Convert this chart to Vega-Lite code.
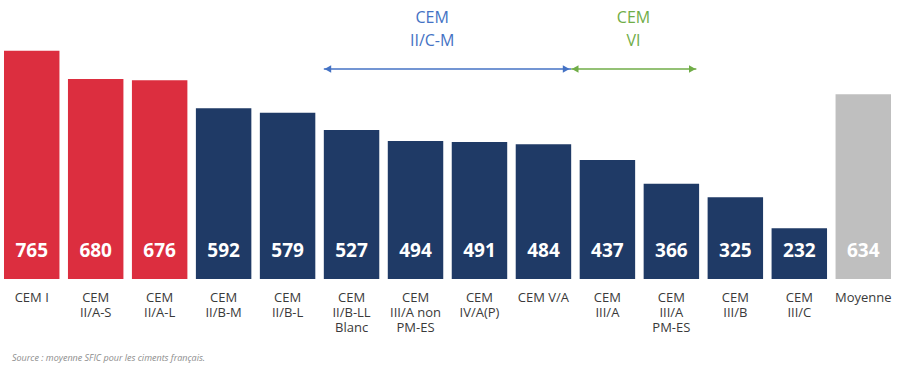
{
  "$schema": "https://vega.github.io/schema/vega-lite/v6.json",
  "width": 895,
  "height": 279,
  "padding": 0,
  "background": "white",
  "config": {"view": {"stroke": null}},
  "title": {"text": "Source :  moyenne SFIC pour les ciments français.", "orient": "bottom", "anchor": "start", "fontSize": 9, "fontStyle": "italic", "fontWeight": "normal", "color": "#8c8c8c", "font": "Open Sans", "offset": 20, "dx": 12},
  "datasets": {
    "bars": [
      {"cat": "CEM I", "value": 765, "group": "rouge"},
      {"cat": "CEM|II/A-S", "value": 680, "group": "rouge"},
      {"cat": "CEM|II/A-L", "value": 676, "group": "rouge"},
      {"cat": "CEM|II/B-M", "value": 592, "group": "bleu"},
      {"cat": "CEM|II/B-L", "value": 579, "group": "bleu"},
      {"cat": "CEM|II/B-LL|Blanc", "value": 527, "group": "bleu"},
      {"cat": "CEM|III/A non|PM-ES", "value": 494, "group": "bleu"},
      {"cat": "CEM|IV/A(P)", "value": 491, "group": "bleu"},
      {"cat": "CEM V/A", "value": 484, "group": "bleu"},
      {"cat": "CEM|III/A", "value": 437, "group": "bleu"},
      {"cat": "CEM|III/A|PM-ES", "value": 366, "group": "bleu"},
      {"cat": "CEM|III/B", "value": 325, "group": "bleu"},
      {"cat": "CEM|III/C", "value": 232, "group": "bleu"},
      {"cat": "Moyenne", "value": 634, "group": "gris"}
    ],
    "annot": [
      {"name": "CEM\nII/C-M", "key": "IICM", "from": "CEM|II/B-LL|Blanc", "to": "CEM V/A", "mid": "CEM|III/A non|PM-ES", "level": 710, "textLevel": 847},
      {"name": "CEM\nVI", "key": "VI", "from": "CEM V/A", "to": "CEM|III/A|PM-ES", "mid": "CEM|III/A", "level": 710, "textLevel": 847}
    ]
  },
  "encoding": {
    "x": {
      "field": "cat", "type": "nominal",
      "scale": {"domain": ["CEM I", "CEM|II/A-S", "CEM|II/A-L", "CEM|II/B-M", "CEM|II/B-L", "CEM|II/B-LL|Blanc", "CEM|III/A non|PM-ES", "CEM|IV/A(P)", "CEM V/A", "CEM|III/A", "CEM|III/A|PM-ES", "CEM|III/B", "CEM|III/C", "Moyenne"], "paddingInner": 0.133, "paddingOuter": 0.0625},
      "axis": {"title": null, "domain": false, "ticks": false, "labelAngle": 0, "labelExpr": "split(datum.value, '|')", "labelFont": "Open Sans", "labelFontSize": 13, "labelLineHeight": 15, "labelPadding": 12, "labelColor": "#3a3a3a", "labelOverlap": false, "labelBound": false, "labelLimit": 0}
    }
  },
  "layer": [
    {
      "data": {"name": "bars"},
      "mark": {"type": "bar"},
      "encoding": {
        "y": {"field": "value", "type": "quantitative", "scale": {"domain": [80, 917], "zero": false, "nice": false}, "axis": null},
        "y2": {"datum": 80},
        "color": {"field": "group", "type": "nominal", "scale": {"domain": ["rouge", "bleu", "gris"], "range": ["#DC2E3F", "#1F3A66", "#BFBFBF"]}, "legend": null}
      }
    },
    {
      "data": {"name": "bars"},
      "mark": {"type": "text", "color": "white", "font": "Open Sans", "fontWeight": "bold", "fontSize": 19, "baseline": "alphabetic", "dy": -22},
      "encoding": {
        "y": {"datum": 80, "type": "quantitative"},
        "text": {"field": "value", "type": "quantitative"}
      }
    },
    {
      "data": {"name": "annot"},
      "transform": [{"filter": "datum.key === 'IICM'"}],
      "mark": {"type": "rule", "color": "#4472C4", "strokeWidth": 1.5},
      "encoding": {
        "x": {"field": "from", "type": "nominal", "bandPosition": 0},
        "x2": {"field": "to", "bandPosition": 1},
        "y": {"field": "level", "type": "quantitative"}
      }
    },
    {
      "data": {"name": "annot"},
      "transform": [{"filter": "datum.key === 'IICM'"}],
      "mark": {"type": "point", "shape": "triangle-left", "filled": true, "color": "#4472C4", "size": 60, "opacity": 1, "xOffset": 4},
      "encoding": {
        "x": {"field": "from", "type": "nominal", "bandPosition": 0},
        "y": {"field": "level", "type": "quantitative"}
      }
    },
    {
      "data": {"name": "annot"},
      "transform": [{"filter": "datum.key === 'IICM'"}],
      "mark": {"type": "point", "shape": "triangle-right", "filled": true, "color": "#4472C4", "size": 60, "opacity": 1, "xOffset": -5},
      "encoding": {
        "x": {"field": "to", "type": "nominal", "bandPosition": 1},
        "y": {"field": "level", "type": "quantitative"}
      }
    },
    {
      "data": {"name": "annot"},
      "transform": [{"filter": "datum.key === 'IICM'"}],
      "mark": {"type": "text", "color": "#4472C4", "font": "Open Sans", "fontSize": 16, "lineBreak": "\n", "lineHeight": 23, "baseline": "alphabetic"},
      "encoding": {
        "x": {"field": "mid", "type": "nominal", "bandPosition": 0.8},
        "y": {"field": "textLevel", "type": "quantitative"},
        "text": {"field": "name"}
      }
    },
    {
      "data": {"name": "annot"},
      "transform": [{"filter": "datum.key === 'VI'"}],
      "mark": {"type": "rule", "color": "#70AD47", "strokeWidth": 1.5},
      "encoding": {
        "x": {"field": "from", "type": "nominal", "bandPosition": 1},
        "x2": {"field": "to", "bandPosition": 0.95},
        "y": {"field": "level", "type": "quantitative"}
      }
    },
    {
      "data": {"name": "annot"},
      "transform": [{"filter": "datum.key === 'VI'"}],
      "mark": {"type": "point", "shape": "triangle-left", "filled": true, "color": "#70AD47", "size": 60, "opacity": 1, "xOffset": 4},
      "encoding": {
        "x": {"field": "from", "type": "nominal", "bandPosition": 1},
        "y": {"field": "level", "type": "quantitative"}
      }
    },
    {
      "data": {"name": "annot"},
      "transform": [{"filter": "datum.key === 'VI'"}],
      "mark": {"type": "point", "shape": "triangle-right", "filled": true, "color": "#70AD47", "size": 60, "opacity": 1, "xOffset": -4},
      "encoding": {
        "x": {"field": "to", "type": "nominal", "bandPosition": 0.95},
        "y": {"field": "level", "type": "quantitative"}
      }
    },
    {
      "data": {"name": "annot"},
      "transform": [{"filter": "datum.key === 'VI'"}],
      "mark": {"type": "text", "color": "#70AD47", "font": "Open Sans", "fontSize": 16, "lineBreak": "\n", "lineHeight": 23, "baseline": "alphabetic"},
      "encoding": {
        "x": {"field": "mid", "type": "nominal", "bandPosition": 0.97},
        "y": {"field": "textLevel", "type": "quantitative"},
        "text": {"field": "name"}
      }
    }
  ]
}
